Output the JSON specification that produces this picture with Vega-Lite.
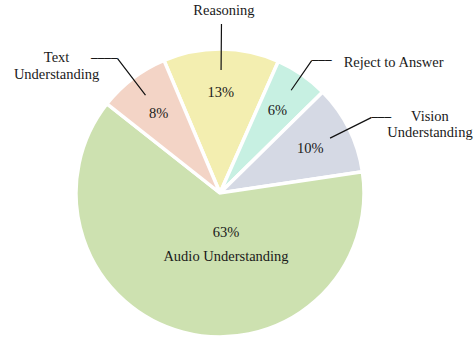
{
  "$schema": "https://vega.github.io/schema/vega-lite/v6.json",
  "width": 440,
  "height": 290,
  "padding": {"left": 0, "top": 48, "right": 35, "bottom": 0},
  "autosize": {"type": "none"},
  "background": "#ffffff",
  "config": {"view": {"stroke": null}},
  "data": {
    "values": [
      {"cat": "Reasoning", "value": 0.13, "order": 1},
      {"cat": "Reject to Answer", "value": 0.06, "order": 2},
      {"cat": "Vision Understanding", "value": 0.10, "order": 3},
      {"cat": "Audio Understanding", "value": 0.63, "order": 4},
      {"cat": "Text Understanding", "value": 0.08, "order": 5}
    ]
  },
  "encoding": {
    "theta": {"field": "value", "type": "quantitative", "stack": true, "scale": {"domain": [0, 1], "range": [-0.3997, 5.8835]}},
    "order": {"field": "order", "type": "quantitative"}
  },
  "layer": [
    {
      "mark": {"type": "arc", "outerRadius": 144, "stroke": "#ffffff", "strokeWidth": 3.5},
      "encoding": {
        "color": {"field": "cat", "type": "nominal", "legend": null,
          "scale": {"domain": ["Reasoning", "Reject to Answer", "Vision Understanding", "Audio Understanding", "Text Understanding"],
                    "range": ["#f3eeb0", "#c7f0e2", "#d5d9e4", "#cde1b0", "#f3d4c6"]}}
      }
    },
    {
      "mark": {"type": "arc", "innerRadius": 123, "outerRadius": 169, "padAngle": 3.1416, "stroke": "#111111", "strokeWidth": 1.2, "fillOpacity": 0},
      "encoding": {"opacity": {"condition": {"test": "datum.cat === 'Reasoning' || datum.cat === 'Text Understanding' || datum.cat === 'Vision Understanding'", "value": 1}, "value": 0}}
    },
    {
      "mark": {"type": "arc", "innerRadius": 125, "outerRadius": 161, "padAngle": 3.1416, "stroke": "#111111", "strokeWidth": 1.2, "fillOpacity": 0},
      "encoding": {"opacity": {"condition": {"test": "datum.cat === 'Reject to Answer'", "value": 1}, "value": 0}}
    },
    {
      "mark": {"type": "text", "text": "────", "font": "DejaVu Sans", "fontSize": 11, "radius": 169, "align": "right", "baseline": "middle", "color": "#111111"},
      "encoding": {"opacity": {"condition": {"test": "datum.cat === 'Text Understanding'", "value": 1}, "value": 0}}
    },
    {
      "mark": {"type": "text", "text": "───", "font": "DejaVu Sans", "fontSize": 11, "radius": 169, "align": "left", "baseline": "middle", "color": "#111111"},
      "encoding": {"opacity": {"condition": {"test": "datum.cat === 'Vision Understanding'", "value": 1}, "value": 0}}
    },
    {
      "mark": {"type": "text", "text": "───", "font": "DejaVu Sans", "fontSize": 11, "radius": 161, "align": "left", "baseline": "middle", "color": "#111111"},
      "encoding": {"opacity": {"condition": {"test": "datum.cat === 'Reject to Answer'", "value": 1}, "value": 0}}
    },
    {
      "mark": {"type": "text", "font": "Liberation Serif", "fontSize": 14.5, "radius": 169, "align": "center", "baseline": "alphabetic", "dx": 2.5, "dy": -9, "color": "#1a1a1a"},
      "encoding": {"text": {"field": "cat"}, "opacity": {"condition": {"test": "datum.cat === 'Reasoning'", "value": 1}, "value": 0}}
    },
    {
      "mark": {"type": "text", "font": "Liberation Serif", "fontSize": 14.5, "radius": 169, "align": "center", "baseline": "alphabetic", "lineBreak": " ", "lineHeight": 16.7, "dx": -61, "dy": 3.7, "color": "#1a1a1a"},
      "encoding": {"text": {"field": "cat"}, "opacity": {"condition": {"test": "datum.cat === 'Text Understanding'", "value": 1}, "value": 0}}
    },
    {
      "mark": {"type": "text", "font": "Liberation Serif", "fontSize": 14.5, "radius": 161, "align": "left", "baseline": "alphabetic", "dx": 32, "dy": 6, "color": "#1a1a1a"},
      "encoding": {"text": {"field": "cat"}, "opacity": {"condition": {"test": "datum.cat === 'Reject to Answer'", "value": 1}, "value": 0}}
    },
    {
      "mark": {"type": "text", "font": "Liberation Serif", "fontSize": 14.5, "radius": 169, "align": "center", "baseline": "alphabetic", "lineBreak": " ", "lineHeight": 16, "dx": 58.7, "dy": 3, "color": "#1a1a1a"},
      "encoding": {"text": {"field": "cat"}, "opacity": {"condition": {"test": "datum.cat === 'Vision Understanding'", "value": 1}, "value": 0}}
    },
    {
      "mark": {"type": "text", "font": "Liberation Serif", "fontSize": 14.5, "radius": 101, "align": "center", "baseline": "alphabetic", "dy": 5, "color": "#1a1a1a"},
      "encoding": {"text": {"field": "value", "type": "quantitative", "format": ".0%"}, "opacity": {"condition": {"test": "datum.cat === 'Audio Understanding'", "value": 0}, "value": 1}}
    },
    {
      "mark": {"type": "text", "font": "Liberation Serif", "fontSize": 14.5, "radius": 0, "align": "center", "baseline": "alphabetic", "dx": 6, "dy": 44.3, "color": "#1a1a1a"},
      "encoding": {"text": {"field": "value", "type": "quantitative", "format": ".0%"}, "opacity": {"condition": {"test": "datum.cat === 'Audio Understanding'", "value": 1}, "value": 0}}
    },
    {
      "mark": {"type": "text", "font": "Liberation Serif", "fontSize": 14.5, "radius": 0, "align": "center", "baseline": "alphabetic", "dx": 6, "dy": 68, "color": "#1a1a1a"},
      "encoding": {"text": {"field": "cat"}, "opacity": {"condition": {"test": "datum.cat === 'Audio Understanding'", "value": 1}, "value": 0}}
    }
  ]
}
